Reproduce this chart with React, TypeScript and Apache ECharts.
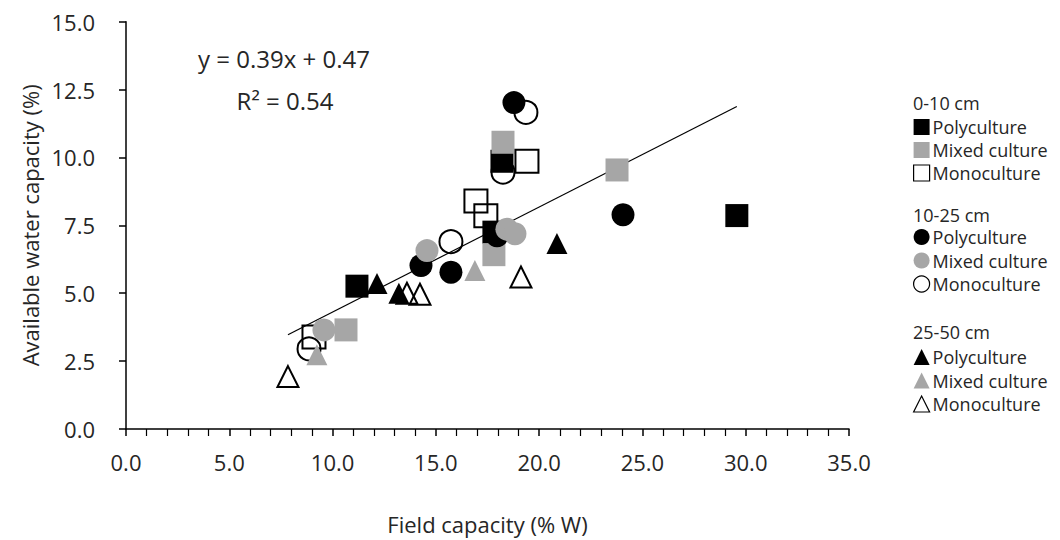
import React, { useEffect, useRef } from "react";
import * as echarts from "echarts";

// Field capacity (% W) vs Available water capacity (%)
const sqPoly = [[18.2, 9.86], [17.81, 7.25], [11.18, 5.26], [29.57, 7.86]];
const sqMixed = [[18.25, 10.56], [17.81, 6.42], [10.65, 3.65], [23.77, 9.54]];
const sqMono = [[19.41, 9.86], [16.94, 8.4], [17.42, 7.85], [9.1, 3.39]];
const ciPoly = [[18.78, 12.02], [17.96, 7.12], [14.28, 6.02], [15.73, 5.77], [24.06, 7.89]];
const ciMixed = [[18.44, 7.36], [18.83, 7.19], [14.57, 6.57], [9.58, 3.65]];
const ciMono = [[19.36, 11.66], [18.25, 9.46], [15.73, 6.9], [8.86, 2.95]];
const trPoly = [[20.86, 6.83], [12.15, 5.36], [13.21, 5.0]];
const trMixed = [[16.89, 5.84], [9.24, 2.73]];
const trMono = [[19.12, 5.6], [14.23, 4.96], [13.6, 5.0], [7.84, 1.93]];
const trendLine = [[7.84, 3.47], [29.57, 11.88]];

const depthGroups = ["0-10 cm", "10-25 cm", "25-50 cm"];
const cultures = ["Polyculture", "Mixed culture", "Monoculture"];
const equationText = "y = 0.39x + 0.47";
const r2Text = "R² = 0.54";

const FONT = "'Open Sans', 'Noto Sans', sans-serif";
const TXT = "#262626";
const GRAY = "#a6a6a6";

export default function App() {
  const ref = useRef<HTMLDivElement>(null);
  useEffect(() => {
    document.body.style.margin = "0";
    if (!ref.current) return;
    const chart = echarts.init(ref.current, null, { renderer: "svg" });
    const groupsData = [
      [sqPoly, sqMixed, sqMono],
      [ciPoly, ciMixed, ciMono],
      [trPoly, trMixed, trMono],
    ];
    const symbols = ["rect", "circle", "triangle"];
    const sizes = [23, 23, 21];
    const series: any[] = [];
    groupsData.forEach((g, gi) => {
      g.forEach((d, ci) => {
        const name = depthGroups[gi] + ": " + cultures[ci];
        const style =
          ci === 0
            ? { color: "#000", opacity: 1 }
            : ci === 1
            ? { color: GRAY, opacity: 1 }
            : { color: "rgba(255,255,255,0)", borderColor: "#000", borderWidth: 2, opacity: 1 };
        series.push({
          type: "scatter",
          name,
          data: d,
          symbol: symbols[gi],
          symbolSize: sizes[gi],
          itemStyle: style,
          emphasis: { disabled: true },
        });
      });
    });
    series.push({
      type: "line",
      name: "trend",
      data: trendLine,
      showSymbol: false,
      symbol: "none",
      lineStyle: { color: "#000", width: 1.2 },
      z: 1,
    });
    const legendTops = [116, 226, 346];
    const legendGaps = [1, 1.5, 1.5];
    const legends = depthGroups.map((dg, gi) => ({
      orient: "vertical",
      left: 913,
      top: legendTops[gi],
      padding: 0,
      itemWidth: 16,
      itemHeight: 16,
      itemGap: legendGaps[gi],
      textStyle: { fontFamily: FONT, fontSize: 18, lineHeight: 22, color: TXT, padding: [0, 0, 0, -2] },
      formatter: (n: string) => n.split(": ")[1],
      data: cultures.map((c, ci) => ({
        name: dg + ": " + c,
        itemStyle: ci === 2 ? { borderWidth: 1.2 } : undefined,
      })),
      selectedMode: false,
    }));
    chart.setOption({
      animation: false,
      textStyle: { fontFamily: FONT },
      grid: { left: 126, right: 211, top: 21.7, bottom: 108.5 },
      xAxis: {
        type: "value",
        min: 0,
        max: 35,
        interval: 5,
        name: "Field capacity (% W)",
        nameLocation: "middle",
        nameGap: 84,
        nameTextStyle: { fontFamily: FONT, fontSize: 22, color: TXT },
        axisLine: { onZero: false, lineStyle: { color: "#000", width: 1.5 } },
        axisTick: { show: true, length: 7, lineStyle: { color: "#000", width: 1.5 } },
        minorTick: { show: true, splitNumber: 5, length: 7, lineStyle: { color: "#000", width: 1.2 } },
        splitLine: { show: false },
        axisLabel: {
          margin: 22,
          fontFamily: FONT,
          fontSize: 22,
          color: TXT,
          formatter: (v: number) => v.toFixed(1),
        },
      },
      yAxis: {
        type: "value",
        min: 0,
        max: 15,
        interval: 2.5,
        name: "Available water capacity (%)",
        nameLocation: "middle",
        nameGap: 84,
        nameTextStyle: { fontFamily: FONT, fontSize: 22, color: TXT },
        axisLine: { show: true, lineStyle: { color: "#000", width: 1.5 } },
        axisTick: { show: true, length: 7, lineStyle: { color: "#000", width: 1.5 } },
        splitLine: { show: false },
        axisLabel: {
          margin: 31,
          fontFamily: FONT,
          fontSize: 22,
          color: TXT,
          formatter: (v: number) => v.toFixed(1),
        },
      },
      legend: legends,
      graphic: [
        ...depthGroups.map((dg, gi) => ({
          type: "text",
          x: 913,
          y: [103, 215, 332][gi],
          style: { text: dg, fontFamily: FONT, fontSize: 18, lineHeight: 20, fill: TXT, verticalAlign: "middle" },
        })),
        {
          type: "text",
          x: 284,
          y: 58,
          style: { text: equationText, fontFamily: FONT, fontSize: 24, fill: TXT, align: "center", verticalAlign: "middle" },
        },
        {
          type: "text",
          x: 285,
          y: 100,
          style: { text: r2Text, fontFamily: FONT, fontSize: 24, fill: TXT, align: "center", verticalAlign: "middle" },
        },
      ],
      series,
    });
    return () => chart.dispose();
  }, []);
  return <div ref={ref} style={{ width: 1060, height: 540 }} />;
}
